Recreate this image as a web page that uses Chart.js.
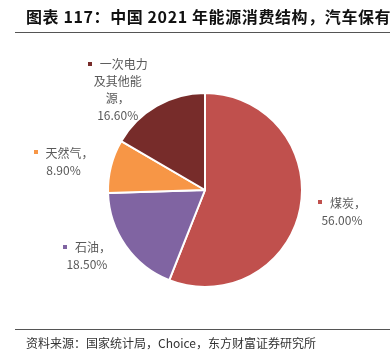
<!DOCTYPE html>
<html>
<head>
<meta charset="utf-8">
<script src="https://cdn.jsdelivr.net/npm/chart.js@4.4.0/dist/chart.umd.min.js"></script>
<style>
    html, body { margin: 0; padding: 0; background: #fff; }
    #wrap { position: relative; width: 390px; height: 361px; overflow: hidden; }
    #chart { position: absolute; left: 0; top: 0; }
    .title {
        position: absolute; left: 26px; top: 4px; white-space: nowrap;
        font: bold 16px "Noto Sans CJK SC", sans-serif; color: #111; letter-spacing: 0.6px;
    }
    .rule { position: absolute; left: 15px; right: 0; height: 1px; background: #555; }
    .source {
        position: absolute; left: 26px; top: 334px; white-space: nowrap;
        font: 12px "Noto Sans CJK SC", sans-serif; color: #333;
    }
</style>
</head>
<body>
<div id="wrap">
    <canvas id="chart" width="390" height="361"></canvas>
    <div class="title">图表 117：中国 2021 年能源消费结构，汽车保有量</div>
    <div class="rule" style="top:32px"></div>
    <div class="rule" style="top:329px"></div>
    <div class="source">资料来源：国家统计局，Choice，东方财富证券研究所</div>
</div>
<script>
// data
const categories = ['煤炭', '石油', '天然气', '一次电力及其他能源'];
const shares = [56.0, 18.5, 8.9, 16.6];
// how the category names wrap in the labels
const nameLines = [['煤炭，'], ['石油，'], ['天然气，'], ['一次电力', '及其他能', '源，']];
const sliceColors = ['#C0504D', '#8064A2', '#F79646', '#772C2A'];

// outside labels with a small coloured square, placed beside each slice
const outsideLabels = {
    id: 'outsideLabels',
    afterDraw(chart) {
        const ctx = chart.ctx;
        const arcs = chart.getDatasetMeta(0).data;
        const lineH = 17, mark = 4, markGap = 8;
        ctx.save();
        ctx.fillStyle = '#595959';
        ctx.textBaseline = 'middle';
        arcs.forEach(function(arc, i) {
            const mid = (arc.startAngle + arc.endAngle) / 2;
            const dx = Math.cos(mid), dy = Math.sin(mid);
            const r = arc.outerRadius + 18;
            const ax = arc.x + dx * r, ay = arc.y + dy * r;

            const lines = nameLines[i].concat([shares[i].toFixed(2) + '%']);
            ctx.font = '12px "Noto Sans CJK SC", sans-serif';
            const widths = lines.map(function(t, k) {
                let w = ctx.measureText(t).width;
                if (k === 0) w += mark + markGap;
                return w;
            });
            const boxW = Math.max.apply(null, widths);
            const left = dx >= 0 ? ax : ax - boxW;
            const cx = left + boxW / 2;
            const top = ay - (lines.length * lineH) / 2 + lineH / 2;

            lines.forEach(function(t, k) {
                const y = top + k * lineH;
                let x = cx - widths[k] / 2;
                if (k === 0) {
                    ctx.fillStyle = sliceColors[i];
                    ctx.fillRect(Math.round(x), Math.round(y - 3), mark, mark);
                    x += mark + markGap;
                }
                ctx.fillStyle = '#595959';
                ctx.textAlign = 'left';
                ctx.fillText(t, x, y);
            });
        });
        ctx.restore();
    }
};

new Chart(document.getElementById('chart'), {
    type: 'pie',
    data: {
        labels: categories,
        datasets: [{
            data: shares,
            backgroundColor: sliceColors,
            borderColor: '#ffffff',
            borderWidth: 2
        }]
    },
    options: {
        responsive: false,
        animation: false,
        events: [],
        layout: { padding: { left: 107, right: 87, top: 92, bottom: 73 } },
        plugins: {
            legend: { display: false },
            tooltip: { enabled: false }
        }
    },
    plugins: [outsideLabels]
});
</script>
</body>
</html>
